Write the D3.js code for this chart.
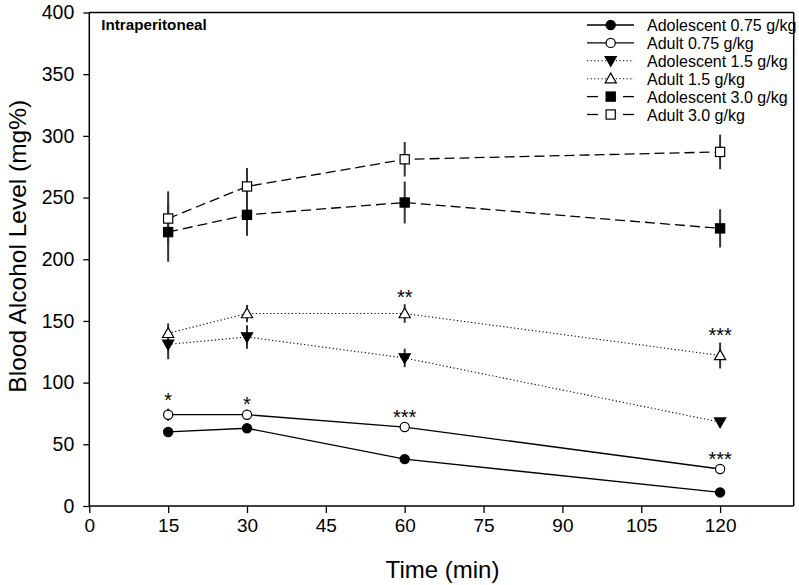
<!DOCTYPE html>
<html>
<head>
<meta charset="utf-8">
<script src="https://cdn.jsdelivr.net/npm/d3@7"></script>
<style>
  html, body { margin: 0; padding: 0; background: #fff; }
  svg { display: block; font-family: Arial, "Liberation Sans", Helvetica, sans-serif; }
</style>
</head>
<body>
<svg id="chart" width="799" height="585"></svg>
<script>
// ---- data ----
const times = [15, 30, 60, 120];
const xTicks = [0, 15, 30, 45, 60, 75, 90, 105, 120];
const yTicks = [0, 50, 100, 150, 200, 250, 300, 350, 400];

const seriesNames = ["Adolescent 0.75 g/kg", "Adult 0.75 g/kg", "Adolescent 1.5 g/kg",
                     "Adult 1.5 g/kg", "Adolescent 3.0 g/kg", "Adult 3.0 g/kg"];
const adol075 = [60, 63, 38, 11];
const adult075 = [74, 74, 64, 30];
const adol15 = [131, 137, 120, 68];
const adult15 = [140, 156, 156, 122];
const adol30 = [222, 236, 246, 225];
const adult30 = [233, 259, 281, 287];

const adol075Err = [3, 3, 2, 2];
const adult075Err = [5, 4, 3, 3];
const adol15Err = [12, 9.5, 7.5, 3];
const adult15Err = [8, 7, 7.5, 10.5];
const adol30Err = [24, 17, 17, 15.5];
const adult30Err = [22, 15, 14, 14];

// significance annotations: [time, y position (mg%), label]
const starTimes = [15, 30, 60, 120, 60, 120];
const starY = [87.5, 84.5, 73.7, 40, 171, 140];
const starLabels = ["*", "*", "***", "***", "**", "***"];

const panelLabel = "Intraperitoneal";
const xTitle = "Time (min)";
const yTitle = "Blood Alcohol Level (mg%)";

// ---- styles (not data) ----
const styles = [
  { marker: "circle", fill: "#000", dash: null },
  { marker: "circle", fill: "#fff", dash: null },
  { marker: "triDown", fill: "#000", dash: "1.2,2.4" },
  { marker: "triUp", fill: "#fff", dash: "1.2,2.4" },
  { marker: "square", fill: "#000", dash: "10,5" },
  { marker: "square", fill: "#fff", dash: "10,5" }
];
const values = [adol075, adult075, adol15, adult15, adol30, adult30];
const errors = [adol075Err, adult075Err, adol15Err, adult15Err, adol30Err, adult30Err];

const svg = d3.select("#chart");
const L = 89.3, R = 793.7, T = 12.5, B = 506;

const x = d3.scaleLinear().domain([0, 134]).range([L, R]);
const y = d3.scaleLinear().domain([0, 400]).range([B, T]);

// frame top and right
svg.append("line").attr("x1", L).attr("x2", R).attr("y1", T).attr("y2", T)
  .attr("stroke", "#000").attr("stroke-width", 1.5);
svg.append("line").attr("x1", R).attr("x2", R).attr("y1", T).attr("y2", B)
  .attr("stroke", "#000").attr("stroke-width", 1.5);

// axes
const xAxis = svg.append("g").attr("transform", `translate(0,${B})`)
  .call(d3.axisBottom(x).tickValues(xTicks).tickSize(7).tickPadding(6).tickSizeOuter(0));
const yAxis = svg.append("g").attr("transform", `translate(${L},0)`)
  .call(d3.axisLeft(y).tickValues(yTicks).tickSize(6).tickPadding(9).tickSizeOuter(0));
[xAxis, yAxis].forEach(g => {
  g.select(".domain").attr("stroke", "#000").attr("stroke-width", 1.5);
  g.selectAll(".tick line").attr("stroke", "#000").attr("stroke-width", 1.3);
  g.selectAll(".tick text").attr("fill", "#000").style("font-size", "19.5px")
    .style("font-family", "Arial, 'Liberation Sans', sans-serif");
});
xAxis.selectAll(".tick text").style("font-size", "19px");
xAxis.select(".domain").attr("d", `M${L},0H${R}`);
yAxis.select(".domain").attr("d", `M0,${B}V${T}`);

// titles
svg.append("text").attr("x", (x(0) + x(134)) / 2 + 1).attr("y", 578)
  .attr("text-anchor", "middle").style("font-size", "24px").text(xTitle);
svg.append("text").attr("transform", `translate(26,${(B + T) / 2 - 13}) rotate(-90)`)
  .attr("text-anchor", "middle").style("font-size", "24.5px").text(yTitle);
svg.append("text").attr("x", L + 12).attr("y", 30)
  .style("font-size", "15.2px").style("font-weight", "bold").text(panelLabel);

// marker drawing helper
function drawMarker(g, type, cx, cy, fill) {
  if (type === "circle") {
    g.append("circle").attr("cx", cx).attr("cy", cy).attr("r", 4.6)
      .attr("fill", fill).attr("stroke", "#000").attr("stroke-width", 1.2);
  } else if (type === "square") {
    g.append("rect").attr("x", cx - 4.6).attr("y", cy - 4.6).attr("width", 9.2).attr("height", 9.2)
      .attr("fill", fill).attr("stroke", "#000").attr("stroke-width", 1.2);
  } else {
    const s = 5.6;
    const pts = type === "triUp"
      ? [[cx, cy - s], [cx + s, cy + s * 0.75], [cx - s, cy + s * 0.75]]
      : [[cx, cy + s], [cx + s, cy - s * 0.75], [cx - s, cy - s * 0.75]];
    g.append("polygon").attr("points", pts.map(p => p.join(",")).join(" "))
      .attr("fill", fill).attr("stroke", "#000").attr("stroke-width", 1.2);
  }
}

const line = d3.line().x(d => x(d[0])).y(d => y(d[1]));

// lines
values.forEach((vals, i) => {
  svg.append("path").datum(times.map((t, j) => [t, vals[j]]))
    .attr("d", line).attr("fill", "none").attr("stroke", "#000")
    .attr("stroke-width", i >= 2 && i <= 3 ? 1.1 : 1.3)
    .attr("stroke-dasharray", styles[i].dash);
});

// error bars
values.forEach((vals, i) => {
  times.forEach((t, j) => {
    svg.append("line").attr("x1", x(t)).attr("x2", x(t))
      .attr("y1", y(vals[j] + errors[i][j])).attr("y2", y(vals[j] - errors[i][j]))
      .attr("stroke", "#333").attr("stroke-width", 2);
  });
});

// markers
values.forEach((vals, i) => {
  const g = svg.append("g");
  times.forEach((t, j) => drawMarker(g, styles[i].marker, x(t), y(vals[j]), styles[i].fill));
});

// significance stars
starTimes.forEach((t, k) => {
  svg.append("text").attr("x", x(t)).attr("y", y(starY[k]) + 9)
    .attr("text-anchor", "middle").style("font-size", "20px").text(starLabels[k]);
});

// legend
const legX1 = 587, legX2 = 634, legMid = 610.7, legText = 647, legY0 = 25, legDy = 17.9;
seriesNames.forEach((name, i) => {
  const yy = legY0 + i * legDy;
  const g = svg.append("g");
  if (styles[i].dash === "10,5") {
    g.append("line").attr("x1", legX1).attr("x2", legX1 + 11).attr("y1", yy).attr("y2", yy)
      .attr("stroke", "#000").attr("stroke-width", 1.3);
    g.append("line").attr("x1", legX2 - 11).attr("x2", legX2).attr("y1", yy).attr("y2", yy)
      .attr("stroke", "#000").attr("stroke-width", 1.3);
  } else {
    g.append("line").attr("x1", legX1).attr("x2", legX2).attr("y1", yy).attr("y2", yy)
      .attr("stroke", "#000").attr("stroke-width", styles[i].dash ? 1.1 : 1.3)
      .attr("stroke-dasharray", styles[i].dash);
  }
  drawMarker(g, styles[i].marker, legMid, yy, styles[i].fill);
  g.append("text").attr("x", legText).attr("y", yy + 6)
    .style("font-size", "16px").text(name);
});
</script>
</body>
</html>
